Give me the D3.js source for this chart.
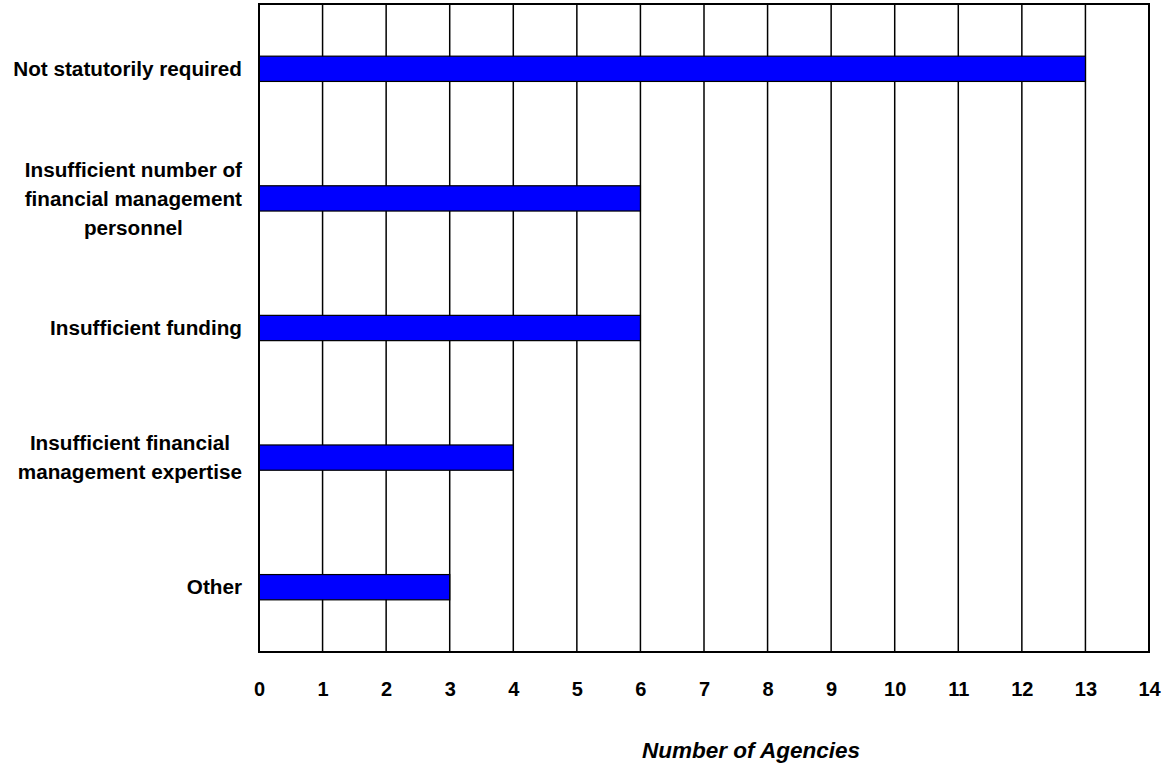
<!DOCTYPE html>
<html>
<head>
<meta charset="utf-8">
<script src="https://cdn.jsdelivr.net/npm/d3@7"></script>
<style>
  html, body { margin: 0; padding: 0; background: #fff; }
  text { font-family: Arial, "Liberation Sans", sans-serif; font-weight: bold; fill: #000; }
</style>
</head>
<body>
<svg id="chart" width="1170" height="763"></svg>
<script>
// Reasons given by agencies, top to bottom
const reasons = [
  ["Not statutorily required"],
  ["Insufficient number of", "financial management", "personnel"],
  ["Insufficient funding"],
  ["Insufficient financial", "management expertise"],
  ["Other"]
];
const agencyCounts = [13, 6, 6, 4, 3];
const xTicks = [0, 1, 2, 3, 4, 5, 6, 7, 8, 9, 10, 11, 12, 13, 14];
const xTitle = "Number of Agencies";

const svg = d3.select("#chart");
const plot = { left: 259, right: 1149, top: 4, bottom: 652 };

const x = d3.scaleLinear().domain([0, 14]).range([plot.left, plot.right]);
const y = d3.scaleBand()
  .domain(d3.range(reasons.length))
  .range([plot.top, plot.bottom])
  .paddingInner(0.805)
  .paddingOuter(0.4025);

// Vertical gridlines at every whole agency count
svg.append("g")
  .selectAll("line")
  .data(xTicks.slice(1, -1))
  .join("line")
  .attr("x1", d => x(d)).attr("x2", d => x(d))
  .attr("y1", plot.top).attr("y2", plot.bottom)
  .attr("stroke", "#000").attr("stroke-width", 1.5);

// Bars
svg.append("g")
  .selectAll("rect")
  .data(agencyCounts)
  .join("rect")
  .attr("x", x(0))
  .attr("y", (d, i) => y(i))
  .attr("width", d => x(d) - x(0))
  .attr("height", y.bandwidth())
  .attr("fill", "#0000ff")
  .attr("stroke", "#000")
  .attr("stroke-width", 1.2);

// Plot frame
svg.append("rect")
  .attr("x", plot.left).attr("y", plot.top)
  .attr("width", plot.right - plot.left).attr("height", plot.bottom - plot.top)
  .attr("fill", "none").attr("stroke", "#000").attr("stroke-width", 2);

// X axis labels
const xAxis = d3.axisBottom(x).tickValues(xTicks).tickSize(0).tickPadding(0).tickFormat(d3.format("d"));
const gx = svg.append("g").attr("transform", `translate(0,${plot.bottom + 30})`).call(xAxis);
gx.select(".domain").remove();
gx.selectAll("text")
  .attr("font-family", "Arial, 'Liberation Sans', sans-serif")
  .attr("font-weight", "bold")
  .attr("font-size", 20)
  .attr("fill", "#000");

// Axis title
svg.append("text")
  .attr("x", 751).attr("y", 758)
  .attr("text-anchor", "middle")
  .attr("font-size", 22.5)
  .attr("font-style", "italic")
  .text(xTitle);

// Category labels, centred lines, right edge next to the axis
const lineGap = 29;
const labelRight = 242;
reasons.forEach((lines, i) => {
  const cy = y(i) + y.bandwidth() / 2;
  const t = svg.append("text")
    .attr("font-size", 20.7)
    .attr("text-anchor", "middle");
  const spans = lines.map((s, k) => t.append("tspan")
    .attr("y", cy + (k - (lines.length - 1) / 2) * lineGap)
    .attr("dy", "0.35em")
    .text(s));
  const maxW = d3.max(spans, sp => sp.node().getComputedTextLength());
  spans.forEach(sp => sp.attr("x", labelRight - maxW / 2));
});
</script>
</body>
</html>
